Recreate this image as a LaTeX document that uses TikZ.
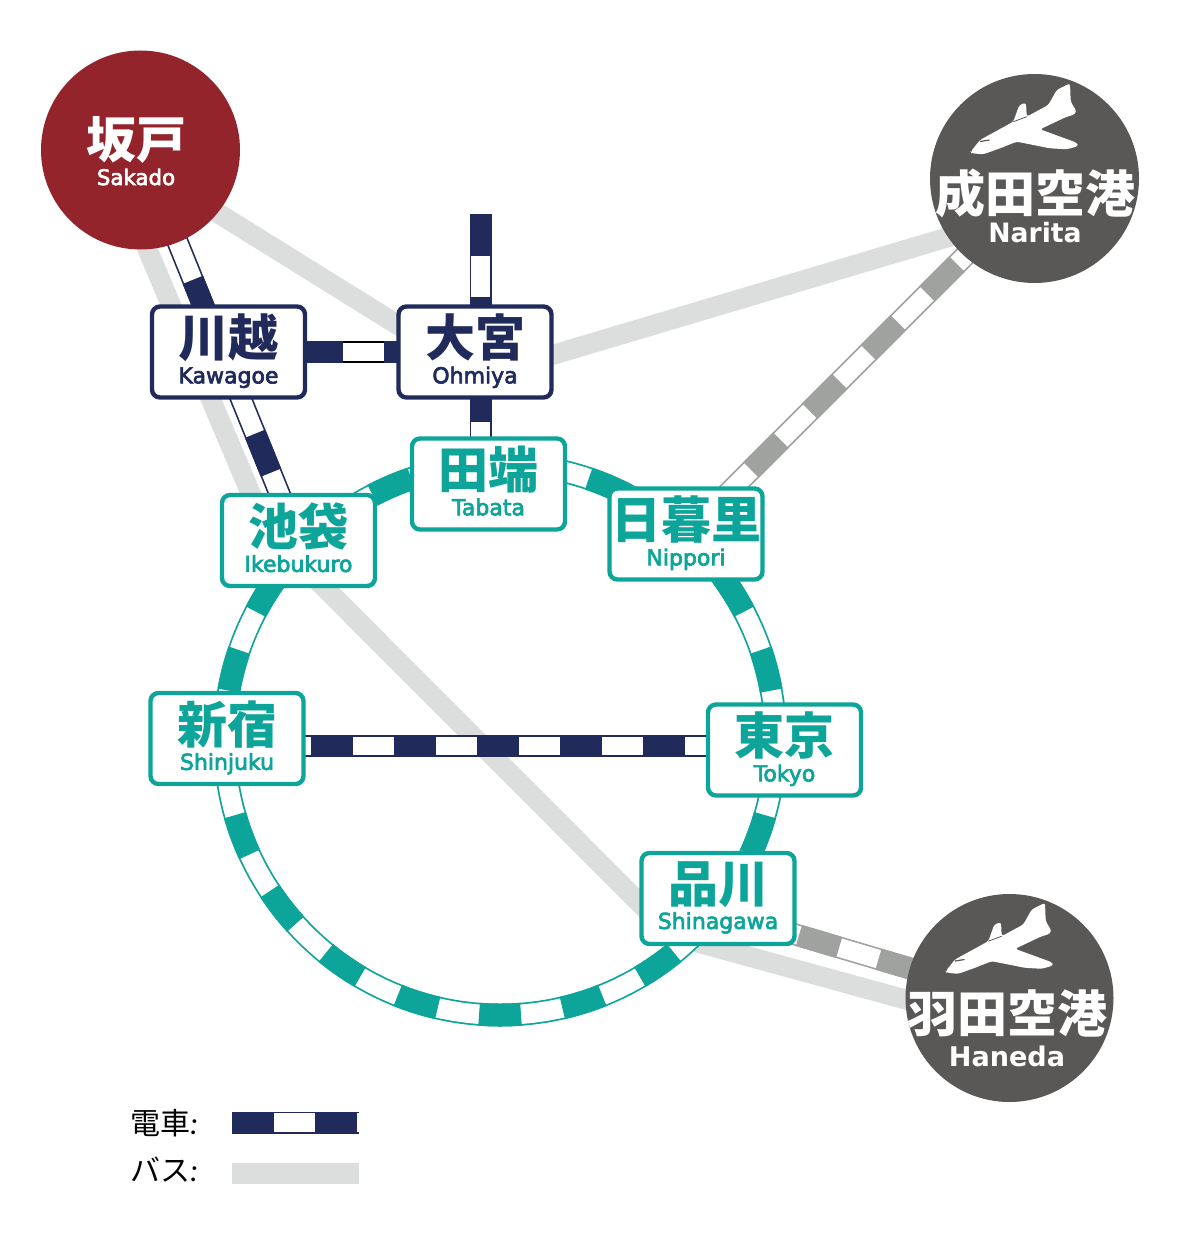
\documentclass[tikz,border=0pt]{standalone}
\usepackage{fontspec}
\setmainfont{Lato}
\newfontfamily\cjk{Noto Sans CJK JP}
\newfontfamily\romanfont{DejaVu Sans}[FakeBold=3]
\newfontfamily\airportfont{DejaVu Sans Bold}
\usetikzlibrary{backgrounds}
\definecolor{navyline}{RGB}{32,43,92}
\definecolor{tealline}{RGB}{13,165,153}
\definecolor{greyline}{RGB}{160,162,160}
\definecolor{busgrey}{RGB}{220,222,221}
\definecolor{sakadored}{RGB}{147,36,43}
\definecolor{airportgrey}{RGB}{89,88,87}
\newcommand{\stationtext}[2]{{\cjk\bfseries\fontsize{37.5pt}{37.5pt}\selectfont #1}\\{\romanfont #2\rule[-5pt]{0pt}{5pt}}}
\tikzset{
  rail/.style n args={3}{draw=#1,line width=16.5pt,
    postaction={draw=white,line width=14pt},
    postaction={draw=#2,line width=16.5pt,dash pattern=on 31.5pt off 30.75pt,dash phase=#3}},
  railring/.style={draw=tealline,line width=17.25pt,
    postaction={draw=white,line width=14.6pt},
    postaction={draw=tealline,line width=17.25pt,dash pattern=on 31.43pt off 31.43pt,dash phase=57.94pt}},
  bus/.style={draw=busgrey,line width=15pt},
  stationbox/.style={draw=#1,text=#1,fill=white,line width=3.3pt,rounded corners=6pt,
    minimum width=114.75pt,minimum height=68.25pt,inner sep=0pt,align=center,
    font=\fontsize{16.5pt}{20pt}\selectfont},
  airporttext/.style 2 args={text=white,inner sep=0pt,align=center,
    font=\fontsize{#1}{#2}\selectfont},
  planeshape/.pic={
    \fill[white,rounded corners=2pt] (-63.8,-26.8) -- (-54.5,-38.5) -- (-21.2,-56.8) -- (-15.2,-73.5) -- (-8.5,-75.8) -- (-7.8,-61.8)
      -- (13.8,-73.5) -- (22.2,-88.5) -- (35.5,-95.2) -- (36.2,-76.8) -- (42.2,-66.8) -- (38.8,-63.5) -- (32.2,-61.8)
      -- (5.5,-49.2) -- (42.2,-35.8) -- (43.8,-32.5) -- (32.2,-29.2) -- (15.5,-30.2) -- (-17.8,-36.8) -- (-34.5,-30.2)
      -- (-51.2,-24.2) -- (-62.8,-25.2) -- cycle;
    \draw[airportgrey,line width=0.6pt] (-21.2,-56.8) -- (-7.8,-61.8);
    \draw[airportgrey,line width=0.9pt] (-54.5,-37) -- (-45,-38.5);
  }
}
\begin{document}
\begin{tikzpicture}[x=0.75pt,y=-0.75pt]
\useasboundingbox (0,0) rectangle (1179,1256);
% airports
\node[circle,fill=sakadored,minimum size=149.25pt,inner sep=0pt] (sakado) at (140.5,150) {};
\node[circle,fill=airportgrey,minimum size=156.75pt,inner sep=0pt] (narita) at (1034.5,178.5) {};
\node[circle,fill=airportgrey,minimum size=156pt,inner sep=0pt] (haneda) at (1009.5,998) {};
\pic at (narita.center) {planeshape};
\pic at (haneda.center) {planeshape};
\node[airporttext={16pt}{20pt}] (sakadotext) at (136,154) {\stationtext{坂戸}{Sakado}};
\node[airporttext={20pt}{23pt}] (naritatext) at (1035,209) {\stationtext{成田空港}{\airportfont Narita}};
\node[airporttext={20.3pt}{25.5pt}] (hanedatext) at (1007,1031) {\stationtext{羽田空港}{\airportfont Haneda}};
% stations
\node[stationbox=navyline] (kawagoe) at (228.5,352) {\stationtext{川越}{Kawagoe}};
\node[stationbox=navyline] (ohmiya) at (475,352) {\stationtext{大宮}{Ohmiya}};
\node[stationbox=tealline] (tabata) at (488.5,484) {\stationtext{田端}{Tabata}};
\node[stationbox=tealline] (nippori) at (686,534) {\stationtext{日暮里}{Nippori}};
\node[stationbox=tealline] (ikebukuro) at (298.5,540.5) {\stationtext{池袋}{Ikebukuro}};
\node[stationbox=tealline] (shinjuku) at (227,738.5) {\stationtext{新宿}{Shinjuku}};
\node[stationbox=tealline] (tokyo) at (784.5,750) {\stationtext{東京}{Tokyo}};
\node[stationbox=tealline] (shinagawa) at (718,898.5) {\stationtext{品川}{Shinagawa}};
% legend
\node[anchor=east,inner sep=0pt,font=\fontsize{22.5pt}{24pt}\selectfont] (trainlabel) at (198,1123) {{\cjk 電車}\textit{:}};
\node[anchor=east,inner sep=0pt,font=\fontsize{22.5pt}{24pt}\selectfont] (buslabel) at (198,1170) {{\cjk バス}\textit{:}};
\coordinate (trainstart) at (232,1122.5);
\coordinate (trainend) at (359,1122.5);
\coordinate (busstart) at (232,1173.5);
\coordinate (busend) at (359,1173.5);
\coordinate (railtop) at (480.5,214);
\coordinate (ringtop) at (500,464);

\begin{pgfonlayer}{background}
\coordinate (busikebukuro) at ([shift={(-33,-12)}]ikebukuro.center);
\coordinate (busshinagawa) at ([shift={(-46,37)}]shinagawa.center);
\draw[bus] ([shift={(-35,0)}]sakado.center) -- (busikebukuro) -- (busshinagawa) -- ([shift={(0,30)}]haneda.center);
\draw[bus] ([shift={(0,15)}]sakado.center) -- ([shift={(0,21)}]ohmiya.center);
\draw[bus] ([shift={(0,26)}]ohmiya.center) -- ([shift={(0,33)}]narita.center);
\draw[rail={greyline}{greyline}{56.5pt}] ([shift={(1,0)}]nippori.center) -- ([shift={(4,4)}]narita.center);
\draw[rail={greyline}{greyline}{61.2pt}] ([shift={(0,13)}]shinagawa.center) -- (haneda.center);
\draw[rail={navyline}{navyline}{19.5pt}] (sakado.center) -- ([shift={(-6.5,0)}]kawagoe.center) -- (ikebukuro.center);
\draw[rail={black}{navyline}{7.9pt}] (kawagoe.center) -- (ohmiya.center);
\draw[rail={navyline}{navyline}{0pt}] (railtop) -- (railtop |- tabata.center);
\draw[rail={navyline}{navyline}{61.5pt}] ([shift={(0,7.5)}]shinjuku.center) -- ([shift={(0,-4)}]tokyo.center);
\draw[railring] (ringtop) arc[start angle=270,end angle=-90,radius=275.5];
\draw[bus,line width=16pt] (busstart) -- (busend);
\draw[rail={navyline}{navyline}{0pt}] (trainstart) -- (trainend);
\end{pgfonlayer}
\end{tikzpicture}
\end{document}
